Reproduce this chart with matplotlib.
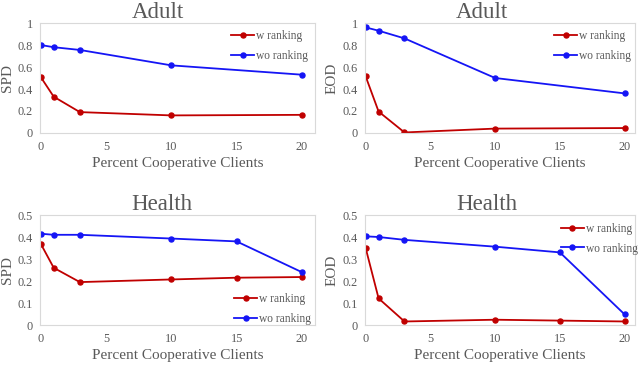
import matplotlib
matplotlib.use("Agg")
import matplotlib.pyplot as plt

plt.rcParams['font.family'] = ['Liberation Serif', 'DejaVu Serif']

x_adult = [0, 1, 3, 10, 20]
adult_spd_w = [0.51, 0.33, 0.19, 0.16, 0.165]
adult_spd_wo = [0.80, 0.78, 0.755, 0.615, 0.53]
adult_eod_w = [0.515, 0.195, 0.005, 0.04, 0.045]
adult_eod_wo = [0.96, 0.93, 0.86, 0.50, 0.36]

x_health = [0, 1, 3, 10, 15, 20]
health_spd_w = [0.37, 0.26, 0.195, 0.207, 0.215, 0.218]
health_spd_wo = [0.415, 0.41, 0.41, 0.393, 0.38, 0.24]
health_eod_w = [0.35, 0.121, 0.016, 0.024, 0.02, 0.016]
health_eod_wo = [0.403, 0.40, 0.387, 0.356, 0.33, 0.048]

xticks = [0, 5, 10, 15, 20]
yticks_adult = [0, 0.2, 0.4, 0.6, 0.8, 1]
ytick_labels_adult = ['0', '0.2', '0.4', '0.6', '0.8', '1']
yticks_health = [0, 0.1, 0.2, 0.3, 0.4, 0.5]
ytick_labels_health = ['0', '0.1', '0.2', '0.3', '0.4', '0.5']

W, H = 640, 365
fig = plt.figure(figsize=(W / 100, H / 100), dpi=100)

TXT = '#595959'
RED = '#C00000'
BLUE = '#1515F5'


def make_ax(l, r, t, b):
    return fig.add_axes([l / W, (H - b) / H, (r - l) / W, (b - t) / H])


panels = [
    (make_ax(40, 315, 23, 133), 'Adult', 0.429, 'SPD', x_adult, adult_spd_w, adult_spd_wo,
     yticks_adult, ytick_labels_adult, (1, 21.0), 'upper right', (1.0, 0.995)),
    (make_ax(365, 635, 23, 133), 'Adult', 0.433, 'EOD', x_adult, adult_eod_w, adult_eod_wo,
     yticks_adult, ytick_labels_adult, (1, 20.8), 'upper right', (1.01, 0.995)),
    (make_ax(40, 315, 215, 325), 'Health', 0.444, 'SPD', x_health, health_spd_w, health_spd_wo,
     yticks_health, ytick_labels_health, (0.5, 21.0), 'lower right', (1.01, -0.06)),
    (make_ax(365, 635, 215, 325), 'Health', 0.452, 'EOD', x_health, health_eod_w, health_eod_wo,
     yticks_health, ytick_labels_health, (0.5, 20.8), 'upper right', (1.035, 0.99)),
]

for ax, title, tx, ylab, xs, yw, ywo, yt, ytl, (ymax, xmax), loc, anchor in panels:
    ax.plot(xs, yw, color=RED, lw=1.3, marker='o', ms=3.6, label='w ranking')
    ax.plot(xs, ywo, color=BLUE, lw=1.3, marker='o', ms=3.6, label='wo ranking')
    ax.set_xlim(-0.05, xmax)
    ax.set_ylim(0, ymax)
    ax.set_xticks(xticks)
    ax.set_xticklabels([str(v) for v in xticks])
    ax.set_yticks(yt)
    ax.set_yticklabels(ytl)
    ax.tick_params(length=0, labelsize=8.8, colors=TXT)
    ax.tick_params(axis='x', pad=6)
    ax.tick_params(axis='y', pad=5)
    for s in ax.spines.values():
        s.set_color('#D9D9D9')
        s.set_linewidth(0.8)
    ax.set_title(title, fontsize=16.5, color=TXT, pad=3, x=tx)
    ax.set_xlabel('Percent Cooperative Clients', fontsize=11, color=TXT, labelpad=3)
    ax.set_ylabel(ylab, fontsize=11, color=TXT, labelpad=3)
    leg = ax.legend(loc=loc, bbox_to_anchor=anchor, frameon=False, fontsize=8.3,
                    handlelength=2.0, handletextpad=0.15, labelspacing=0.65,
                    borderaxespad=0.2)
    for t in leg.get_texts():
        t.set_color(TXT)

fig.savefig('out.png', dpi=100)
